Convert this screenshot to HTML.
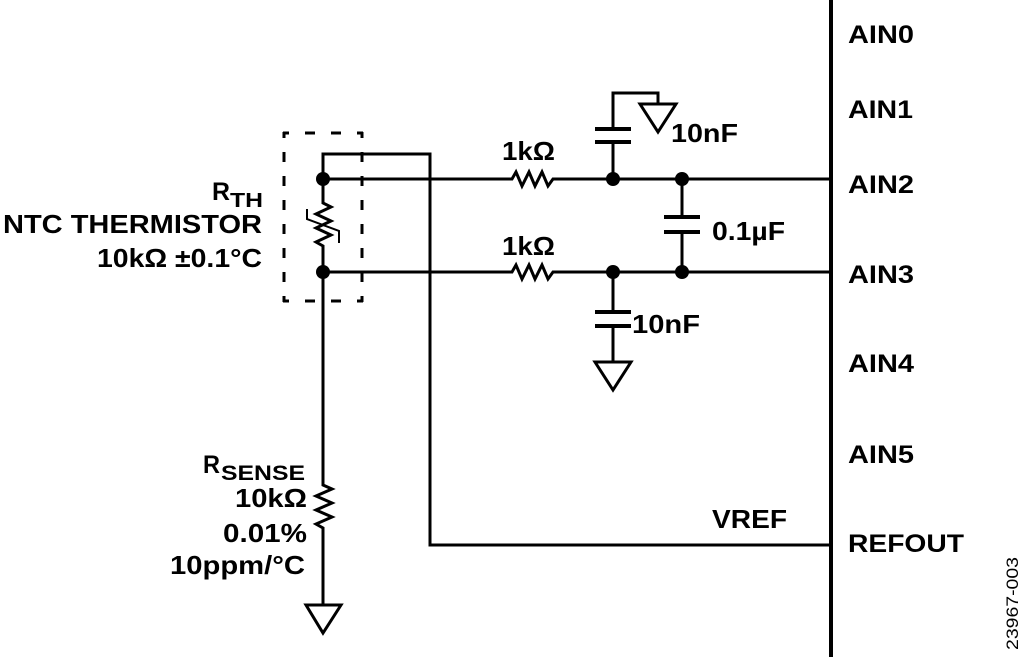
<!DOCTYPE html>
<html>
<head>
<meta charset="utf-8">
<style>
  html,body{margin:0;padding:0;background:#fff;}
  svg{display:block;}
  text{font-family:"Liberation Sans",Arial,sans-serif;font-weight:bold;fill:#000;}
</style>
</head>
<body>
<svg width="1024" height="657" viewBox="0 0 1024 657" xmlns="http://www.w3.org/2000/svg">
  <rect x="0" y="0" width="1024" height="657" fill="#fff"/>

  <!-- main vertical bar -->
  <line x1="831" y1="0" x2="831" y2="657" stroke="#000" stroke-width="4"/>

  <g stroke="#000" stroke-width="3" fill="none" stroke-linejoin="miter" stroke-linecap="butt">
    <polyline points="323,179 512,179 516,172 522,186 529,172 535,186 542,172 548,186 553,179 831,179"/>
    <polyline points="323,272 512,272 516,265 522,279 529,265 535,279 542,265 548,279 553,272 831,272"/>
    <polyline points="323,179 323,154 430,154 430,545 831,545"/>
    <polyline points="323,179 323,203 331,207 316,214 331,221 316,228 331,235 316,242 323,246 323,272"/>
    <polyline points="323,272 323,485 332,489 316,496 332,503 316,510 332,517 316,524 323,528 323,605"/>
    <polygon points="306,605 341,605 323,633"/>
    <polyline points="613,179 613,142"/>
    <polyline points="613,129 613,93 658,93 658,104"/>
    <polygon points="640,104 676,104 658,132"/>
    <polyline points="682,179 682,217"/>
    <polyline points="682,232 682,272"/>
    <polyline points="613,272 613,312"/>
    <polyline points="613,326 613,362"/>
    <polygon points="595,362 631,362 613,390"/>
  </g>

  <polyline points="307,209 307,219 339,231 339,243" stroke="#000" stroke-width="2" fill="none"/>

  <g stroke="#000" stroke-width="4">
    <line x1="595" y1="142" x2="631" y2="142"/>
    <line x1="595" y1="129" x2="631" y2="129"/>
    <line x1="664" y1="217" x2="700" y2="217"/>
    <line x1="664" y1="232" x2="700" y2="232"/>
    <line x1="595" y1="312" x2="631" y2="312"/>
    <line x1="595" y1="326" x2="631" y2="326"/>
  </g>

  <g fill="#000">
    <circle cx="323" cy="179" r="7"/>
    <circle cx="323" cy="272" r="7"/>
    <circle cx="613" cy="179" r="7"/>
    <circle cx="682" cy="179" r="7"/>
    <circle cx="613" cy="272" r="7"/>
    <circle cx="682" cy="272" r="7"/>
  </g>

  <g stroke="#000" stroke-width="3">
    <line x1="283" y1="133" x2="289" y2="133"/>
    <line x1="305" y1="133" x2="315" y2="133"/>
    <line x1="331" y1="133" x2="341" y2="133"/>
    <line x1="357" y1="133" x2="363" y2="133"/>
    <line x1="283" y1="301" x2="289" y2="301"/>
    <line x1="305" y1="301" x2="315" y2="301"/>
    <line x1="331" y1="301" x2="341" y2="301"/>
    <line x1="357" y1="301" x2="363" y2="301"/>
    <line x1="284" y1="132" x2="284" y2="138"/>
    <line x1="284" y1="152" x2="284" y2="162"/>
    <line x1="284" y1="176" x2="284" y2="186"/>
    <line x1="284" y1="200" x2="284" y2="210"/>
    <line x1="284" y1="224" x2="284" y2="234"/>
    <line x1="284" y1="248" x2="284" y2="258"/>
    <line x1="284" y1="272" x2="284" y2="282"/>
    <line x1="284" y1="296" x2="284" y2="302"/>
    <line x1="362" y1="132" x2="362" y2="138"/>
    <line x1="362" y1="152" x2="362" y2="162"/>
    <line x1="362" y1="176" x2="362" y2="186"/>
    <line x1="362" y1="200" x2="362" y2="210"/>
    <line x1="362" y1="224" x2="362" y2="234"/>
    <line x1="362" y1="248" x2="362" y2="258"/>
    <line x1="362" y1="272" x2="362" y2="282"/>
    <line x1="362" y1="296" x2="362" y2="302"/>
  </g>

  <text x="848" y="43" font-size="25" textLength="66" lengthAdjust="spacingAndGlyphs">AIN0</text>
  <text x="848" y="118" font-size="25" textLength="65" lengthAdjust="spacingAndGlyphs">AIN1</text>
  <text x="848" y="193" font-size="25" textLength="66" lengthAdjust="spacingAndGlyphs">AIN2</text>
  <text x="848" y="283" font-size="25" textLength="66" lengthAdjust="spacingAndGlyphs">AIN3</text>
  <text x="848" y="372" font-size="25" textLength="66" lengthAdjust="spacingAndGlyphs">AIN4</text>
  <text x="848" y="463" font-size="25" textLength="66" lengthAdjust="spacingAndGlyphs">AIN5</text>
  <text x="848" y="552" font-size="25" textLength="116" lengthAdjust="spacingAndGlyphs">REFOUT</text>
  <text x="712" y="528" font-size="26" textLength="75" lengthAdjust="spacingAndGlyphs">VREF</text>

  <text x="671" y="142" font-size="26" textLength="67" lengthAdjust="spacingAndGlyphs">10nF</text>
  <text x="502" y="160" font-size="26" textLength="53" lengthAdjust="spacingAndGlyphs">1kΩ</text>
  <text x="712" y="240" font-size="26" textLength="73" lengthAdjust="spacingAndGlyphs">0.1µF</text>
  <text x="502" y="255" font-size="26" textLength="53" lengthAdjust="spacingAndGlyphs">1kΩ</text>
  <text x="632" y="333" font-size="26" textLength="68" lengthAdjust="spacingAndGlyphs">10nF</text>

  <text x="212" y="200" font-size="25" textLength="18" lengthAdjust="spacingAndGlyphs">R</text>
  <text x="230" y="207" font-size="20" textLength="33" lengthAdjust="spacingAndGlyphs">TH</text>
  <text x="3" y="233" font-size="26" textLength="259" lengthAdjust="spacingAndGlyphs">NTC THERMISTOR</text>
  <text x="97" y="267" font-size="26" textLength="165" lengthAdjust="spacingAndGlyphs">10kΩ ±0.1°C</text>

  <text x="203" y="473" font-size="25" textLength="17" lengthAdjust="spacingAndGlyphs">R</text>
  <text x="221" y="480" font-size="21" textLength="84" lengthAdjust="spacingAndGlyphs">SENSE</text>
  <text x="235" y="507" font-size="26" textLength="72" lengthAdjust="spacingAndGlyphs">10kΩ</text>
  <text x="223" y="542" font-size="26" textLength="84" lengthAdjust="spacingAndGlyphs">0.01%</text>
  <text x="170" y="574" font-size="26" textLength="135" lengthAdjust="spacingAndGlyphs">10ppm/°C</text>

  <text transform="translate(1018,650) rotate(-90)" x="0" y="0" font-size="17" style="font-weight:normal" textLength="93" lengthAdjust="spacingAndGlyphs">23967-003</text>
</svg>
</body>
</html>
